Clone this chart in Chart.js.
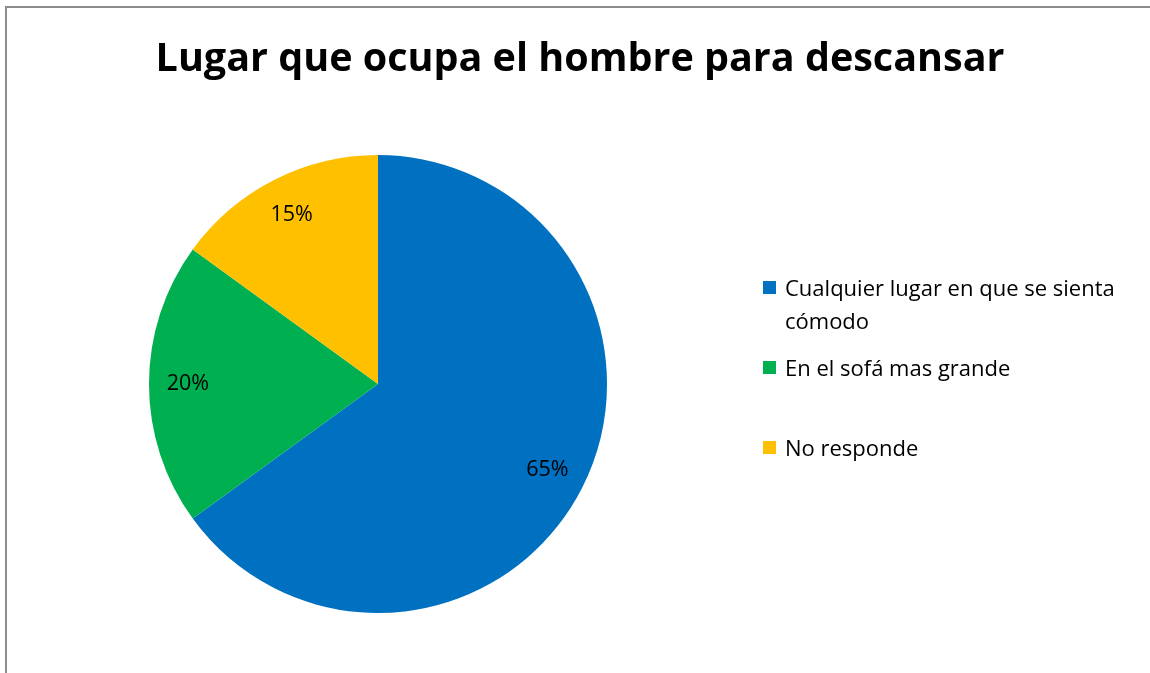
<!DOCTYPE html>
<html>
<head>
<meta charset="utf-8">
<script src="https://cdn.jsdelivr.net/npm/chart.js@4/dist/chart.umd.min.js"></script>
<style>
	html, body { margin: 0; padding: 0; background: #fff; }
	#wrap { position: relative; width: 1150px; height: 673px; overflow: hidden; font-family: "Open Sans", Lato, sans-serif; }
	#frame { position: absolute; left: 5px; top: 6px; width: 1200px; height: 700px; border: 1px solid #8c8c8c; border-width: 2px 0 0 2px; box-sizing: border-box; }
	#pie { position: absolute; left: 0; top: 0; }
	#legend { position: absolute; left: 763px; top: 271px; width: 385px; font-size: 22px; color: #000; }
	.item { position: absolute; left: 0; display: flex; align-items: flex-start; }
	.box { width: 13px; height: 13px; margin-top: 10px; margin-right: 9px; flex: none; }
	.txt { width: 355px; line-height: 33px; white-space: normal; }
</style>
</head>
<body>
<div id="wrap">
	<div id="frame"></div>
	<canvas id="pie" width="1150" height="673"></canvas>
	<div id="legend"></div>
</div>
<script>
; (function() {
	const title = 'Lugar que ocupa el hombre para descansar'
	const categories = ['Cualquier lugar en que se sienta cómodo', 'En el sofá mas grande', 'No responde']
	const values = [65, 20, 15]
	const colors = ['#0070C0', '#00B050', '#FFC000']
	const legendTops = [0, 80, 160]

	// title + percentage labels
	const drawText = {
		id: 'drawText',
		afterDatasetsDraw(chart) {
			const ctx = chart.ctx
			ctx.save()
			ctx.fillStyle = '#000'
			ctx.textAlign = 'center'
			ctx.textBaseline = 'middle'
			ctx.font = 'bold 39.5px "Open Sans", Lato, sans-serif'
			ctx.fillText(title, 580, 60)

			ctx.font = '21.5px "Open Sans", Lato, sans-serif'
			const meta = chart.getDatasetMeta(0)
			meta.data.forEach(function(arc, i) {
				const mid = (arc.startAngle + arc.endAngle) / 2
				const r = arc.outerRadius * 0.83
				ctx.fillText(values[i] + '%', arc.x + Math.cos(mid) * r, arc.y + Math.sin(mid) * r)
			})
			ctx.restore()
		}
	}

	new Chart(document.getElementById('pie'), {
		type: 'pie',
		data: {
			labels: categories,
			datasets: [{
				data: values,
				backgroundColor: colors,
				borderWidth: 0,
			}],
		},
		options: {
			responsive: false,
			animation: false,
			layout: { padding: { left: 149, right: 543, top: 155, bottom: 60 } },
			plugins: {
				legend: { display: false },
				tooltip: { enabled: false },
				title: { display: false },
			},
		},
		plugins: [drawText],
	})

	const legend = document.getElementById('legend')
	categories.forEach(function(c, i) {
		const item = document.createElement('div')
		item.className = 'item'
		item.style.top = legendTops[i] + 'px'
		item.innerHTML = '<span class="box" style="background:' + colors[i] + '"></span><span class="txt">' + c + '</span>'
		legend.appendChild(item)
	})
})()
</script>
</body>
</html>
